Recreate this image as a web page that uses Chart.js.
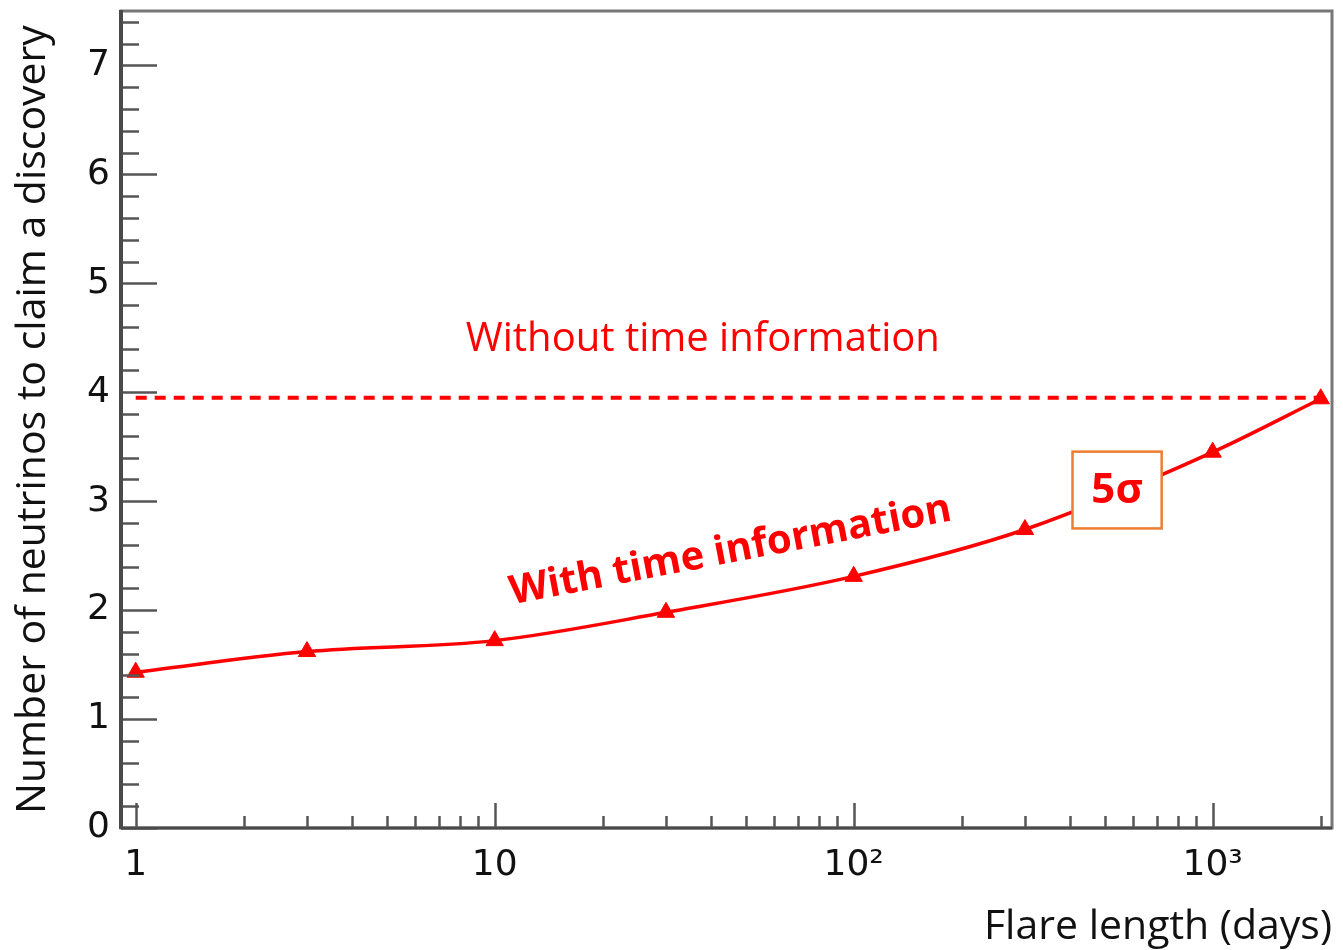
<!DOCTYPE html>
<html>
<head>
<meta charset="utf-8">
<script src="https://cdn.jsdelivr.net/npm/chart.js@4/dist/chart.umd.min.js"></script>
<style>
  html, body { margin: 0; padding: 0; background: #fff; }
  #wrap { width: 1343px; height: 950px; }
</style>
</head>
<body>
<div id="wrap"><canvas id="c" width="1343" height="950"></canvas></div>
<script>
// Flare length in days and the number of neutrinos needed for a 5σ discovery
const flareDays = [1, 3, 10, 30, 100, 300, 1000, 2000];
const neutrinosWithTime = [1.43, 1.62, 1.72, 1.98, 2.31, 2.74, 3.45, 3.94];
// Level reached when the arrival times are not used
const withoutTimeLevel = 3.95;
const withoutTimeSpan = [1, 2000];

const xTickValues = [1, 10, 100, 1000];
const xTickLabels = ['1', '10', '10²', '10³'];
const yTickValues = [0, 1, 2, 3, 4, 5, 6, 7];

const RED = '#ff0000';
const AXIS = '#4a4a4a';

// Inside ticks, frame and text labels, drawn from the scales
const framePlugin = {
  id: 'frame',
  afterDatasetsDraw(chart) {
    const { ctx, chartArea: a, scales: { x, y } } = chart;
    ctx.save();
    ctx.lineCap = 'butt';
    // y ticks: major every 1, minor every 0.2
    ctx.strokeStyle = '#555';
    ctx.lineWidth = 2.5;
    for (let i = 0; i <= 37; i++) {
      const v = i * 0.2;
      if (v > y.max) break;
      const py = Math.round(y.getPixelForValue(v)) + 0.5;
      const major = i % 5 === 0;
      ctx.beginPath();
      ctx.moveTo(a.left, py);
      ctx.lineTo(a.left + (major ? 36 : 18), py);
      ctx.stroke();
    }
    // x ticks: decades major, 2..9 minor
    for (let d = 0; d <= 3; d++) {
      for (let m = 1; m <= 9; m++) {
        const v = m * Math.pow(10, d);
        if (v < x.min || v > x.max) continue;
        const px = Math.round(x.getPixelForValue(v)) + 0.5;
        ctx.beginPath();
        ctx.moveTo(px, a.bottom);
        ctx.lineTo(px, a.bottom - (m === 1 ? 25 : 12));
        ctx.stroke();
      }
    }
    // frame
    ctx.strokeStyle = '#777';
    ctx.lineWidth = 3;
    ctx.strokeRect(a.left, a.top, a.right - a.left, a.bottom - a.top);
    ctx.strokeStyle = AXIS;
    ctx.lineWidth = 4;
    ctx.beginPath();
    ctx.moveTo(a.left, a.top - 1);
    ctx.lineTo(a.left, a.bottom + 1);
    ctx.stroke();
    ctx.lineWidth = 3;
    ctx.beginPath();
    ctx.moveTo(a.left, a.bottom);
    ctx.lineTo(a.right, a.bottom);
    ctx.stroke();
    ctx.restore();
  },
  afterDraw(chart) {
    const { ctx, scales: { x, y } } = chart;
    ctx.save();
    // label above the dashed level
    ctx.fillStyle = RED;
    ctx.textAlign = 'center';
    ctx.textBaseline = 'alphabetic';
    ctx.font = '40px "Open Sans"';
    ctx.fillText('Without time information', x.getPixelForValue(38), y.getPixelForValue(4.38));

    // rotated label along the curve
    ctx.save();
    ctx.translate(x.getPixelForValue(46), y.getPixelForValue(2.44));
    ctx.rotate(-10.8 * Math.PI / 180);
    ctx.font = 'bold 40px "Open Sans"';
    ctx.fillText('With time information', 0, 0);
    ctx.restore();

    // boxed significance label
    const bx0 = x.getPixelForValue(407), bx1 = x.getPixelForValue(721);
    const by0 = y.getPixelForValue(3.455), by1 = y.getPixelForValue(2.75);
    ctx.fillStyle = '#fff';
    ctx.fillRect(bx0, by0, bx1 - bx0, by1 - by0);
    ctx.strokeStyle = '#ed7d31';
    ctx.lineWidth = 2.5;
    ctx.strokeRect(bx0, by0, bx1 - bx0, by1 - by0);
    ctx.fillStyle = RED;
    ctx.font = 'bold 42px "Open Sans"';
    ctx.textBaseline = 'middle';
    ctx.fillText('5σ', (bx0 + bx1) / 2, (by0 + by1) / 2 + 1);
    ctx.restore();
  }
};

new Chart(document.getElementById('c'), {
  type: 'line',
  data: {
    datasets: [
      {
        label: 'Without time information',
        data: withoutTimeSpan.map(d => ({ x: d, y: withoutTimeLevel })),
        borderColor: RED,
        borderWidth: 4,
        borderDash: [11, 8],
        pointRadius: 0,
        tension: 0
      },
      {
        label: 'With time information',
        data: flareDays.map((d, i) => ({ x: d, y: neutrinosWithTime[i] })),
        borderColor: RED,
        backgroundColor: RED,
        borderWidth: 3.5,
        pointStyle: 'triangle',
        pointRadius: 10,
        pointBorderWidth: 1,
        cubicInterpolationMode: 'monotone'
      }
    ]
  },
  options: {
    responsive: false,
    animation: false,
    layout: { padding: { top: 8, right: 11, left: 0, bottom: 0 } },
    plugins: { legend: { display: false }, tooltip: { enabled: false } },
    scales: {
      x: {
        type: 'logarithmic',
        min: 0.91,
        max: 2150,
        grid: { display: false, drawTicks: false },
        border: { display: false },
        afterBuildTicks(scale) { scale.ticks = xTickValues.map(v => ({ value: v })); },
        afterFit(scale) {
          scale.height = 122;
          scale.paddingLeft = 0;
          scale.paddingRight = 0;
        },
        ticks: {
          autoSkip: false,
          maxRotation: 0,
          padding: 16,
          color: '#111',
          font: { family: '"DejaVu Sans"', size: 36 },
          callback: (v) => xTickLabels[xTickValues.indexOf(v)]
        },
        title: {
          display: true,
          text: 'Flare length (days)',
          align: 'end',
          color: '#111',
          font: { family: '"Open Sans"', size: 41, lineHeight: 1 },
          padding: { top: 0, bottom: 2 }
        }
      },
      y: {
        min: 0,
        max: 7.5,
        grid: { display: false, drawTicks: false },
        border: { display: false },
        afterBuildTicks(scale) { scale.ticks = yTickValues.map(v => ({ value: v })); },
        afterFit(scale) {
          scale.width = 121;
          scale.paddingTop = 0;
          scale.paddingBottom = 0;
        },
        ticks: {
          padding: 11,
          color: '#111',
          font: { family: '"DejaVu Sans"', size: 36 },
          callback: (v) => String(v)
        },
        title: {
          display: true,
          text: 'Number of neutrinos to claim a discovery',
          color: '#111',
          font: { family: '"Open Sans"', size: 41, lineHeight: 1 },
          padding: { top: 13, bottom: 0 }
        }
      }
    }
  },
  plugins: [framePlugin]
});
</script>
</body>
</html>
